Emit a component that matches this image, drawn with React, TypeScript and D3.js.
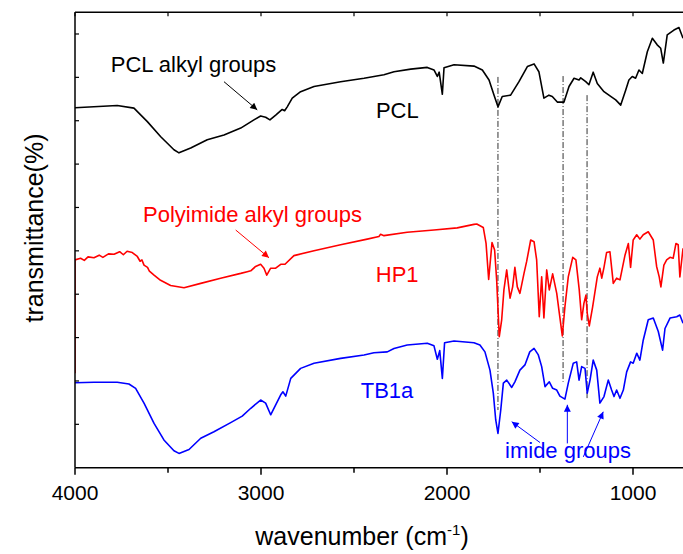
import React from 'react';
import * as d3 from 'd3';

// wavenumber (cm-1), transmittance (offset, arbitrary units)
const pclData: [number, number][] = [
  [4000, 83.0], [3773, 83.5], [3683, 82.9], [3611, 79.8], [3539, 76.3], [3468, 73.3],
  [3441, 72.6], [3378, 73.7], [3289, 75.6], [3199, 76.7], [3109, 78.3], [3038, 80.2],
  [3002, 81.1], [2975, 80.8], [2952, 80.2], [2921, 81.3], [2886, 82.6], [2873, 82.3],
  [2859, 83.2], [2832, 85.2], [2787, 86.7], [2715, 87.9], [2572, 89.0], [2446, 89.8],
  [2339, 90.6], [2285, 91.3], [2195, 91.9], [2106, 92.3], [2070, 91.7], [2052, 90.2],
  [2042, 91.2], [2025, 86.1], [2016, 92.2], [1962, 92.9], [1855, 92.6], [1810, 91.7],
  [1774, 89.4], [1747, 85.9], [1726, 83.2], [1703, 85.6], [1658, 85.9], [1613, 89.0],
  [1568, 92.5], [1532, 93.1], [1506, 91.3], [1479, 85.2], [1452, 85.9], [1434, 85.6],
  [1407, 84.3], [1371, 84.3], [1344, 87.9], [1317, 89.8], [1290, 89.4], [1281, 89.9],
  [1254, 89.0], [1237, 88.3], [1214, 91.2], [1192, 88.6], [1156, 86.7], [1120, 85.6],
  [1093, 84.8], [1066, 83.6], [1039, 87.1], [1022, 89.4], [1004, 90.2], [986, 89.8],
  [968, 91.7], [950, 90.9], [923, 95.9], [896, 99.0], [870, 97.5], [851, 96.7],
  [837, 93.3], [816, 99.8], [780, 100.9], [753, 101.5], [731, 99.0],
];

const hp1Data: [number, number][] = [
  [4000, 21.8], [4000, 47.9], [3970, 48.3], [3950, 47.8], [3930, 48.6], [3898, 48.4],
  [3870, 49.0], [3850, 48.5], [3820, 49.3], [3790, 49.2], [3760, 49.8], [3740, 49.1],
  [3720, 49.9], [3692, 49.6], [3665, 48.7], [3650, 47.6], [3640, 47.9], [3629, 46.7],
  [3610, 46.2], [3600, 45.3], [3575, 44.4], [3540, 43.2], [3486, 42.0], [3414, 41.5],
  [3324, 42.5], [3217, 43.7], [3109, 44.8], [3074, 45.2], [3055, 45.4], [3029, 46.4],
  [3002, 46.9], [2984, 46.0], [2969, 44.4], [2948, 46.0], [2921, 46.0], [2894, 46.9],
  [2871, 46.9], [2823, 48.9], [2715, 50.0], [2572, 51.4], [2429, 52.7], [2366, 53.3],
  [2357, 53.8], [2339, 53.5], [2214, 54.3], [2070, 54.8], [1945, 55.3], [1855, 56.1],
  [1840, 56.2], [1805, 55.4], [1790, 51.7], [1776, 43.4], [1758, 51.9], [1744, 50.2],
  [1733, 43.3], [1719, 30.2], [1706, 34.1], [1694, 41.0], [1679, 45.6], [1661, 39.1],
  [1647, 41.7], [1635, 46.2], [1622, 41.7], [1608, 40.2], [1586, 44.8], [1572, 47.5],
  [1550, 52.5], [1532, 52.1], [1518, 47.9], [1504, 34.8], [1491, 44.0], [1479, 34.5],
  [1464, 45.6], [1450, 41.0], [1432, 44.7], [1410, 40.2], [1396, 35.6], [1380, 30.4],
  [1366, 37.1], [1348, 44.0], [1324, 48.5], [1307, 47.9], [1289, 41.0], [1276, 34.1],
  [1264, 37.9], [1253, 39.8], [1246, 35.6], [1235, 32.7], [1217, 37.1], [1192, 44.0],
  [1178, 46.0], [1168, 43.7], [1156, 46.2], [1142, 49.6], [1124, 49.8], [1106, 42.5],
  [1088, 43.7], [1070, 43.3], [1043, 49.0], [1025, 51.7], [1013, 46.2], [999, 52.5],
  [980, 53.7], [963, 52.7], [945, 53.7], [918, 54.4], [891, 52.5], [873, 46.4],
  [859, 44.0], [850, 41.7], [834, 46.7], [819, 47.9], [801, 48.5], [784, 48.3],
  [769, 51.7], [757, 51.4], [748, 44.0], [731, 50.6],
];

const tb1aData: [number, number][] = [
  [4000, 19.6], [3898, 19.7], [3773, 19.7], [3710, 19.3], [3674, 18.3], [3629, 14.9],
  [3575, 10.2], [3522, 6.4], [3468, 3.9], [3441, 3.3], [3387, 4.2], [3324, 6.8],
  [3253, 8.3], [3163, 10.4], [3101, 11.9], [3055, 13.7], [3002, 15.6], [2975, 14.9],
  [2948, 12.2], [2921, 14.5], [2894, 16.8], [2882, 17.5], [2867, 16.5], [2840, 20.6],
  [2787, 22.9], [2715, 24.1], [2572, 25.2], [2446, 26.0], [2393, 26.5], [2321, 26.7],
  [2285, 27.5], [2214, 28.3], [2106, 28.7], [2070, 28.1], [2052, 25.0], [2039, 27.0],
  [2025, 20.6], [2013, 28.8], [1962, 29.2], [1855, 28.8], [1823, 28.3], [1796, 26.7],
  [1769, 22.5], [1751, 17.2], [1738, 11.0], [1726, 7.9], [1711, 13.3], [1697, 19.5],
  [1679, 20.2], [1652, 18.5], [1635, 19.8], [1608, 22.5], [1581, 23.7], [1555, 26.7],
  [1532, 27.5], [1509, 26.0], [1491, 23.3], [1473, 18.7], [1450, 19.8], [1432, 18.3],
  [1410, 17.9], [1393, 16.5], [1366, 15.8], [1348, 19.5], [1321, 24.1], [1303, 24.4],
  [1290, 20.2], [1276, 23.3], [1258, 22.9], [1246, 17.2], [1231, 20.2], [1214, 24.8],
  [1195, 22.5], [1178, 14.9], [1156, 16.4], [1133, 20.2], [1115, 17.9], [1102, 16.4],
  [1088, 17.9], [1070, 16.0], [1052, 17.9], [1034, 22.1], [1013, 24.4], [999, 24.1],
  [980, 26.4], [963, 24.8], [945, 29.4], [918, 34.1], [891, 34.5], [864, 31.4],
  [841, 27.1], [828, 32.1], [801, 34.5], [765, 34.8], [748, 35.2], [731, 33.3],
];

// dash-dot guide lines: wavenumber, top value, bottom value
const guideLines: [number, number, number][] = [
  [1726, 90.1, 13.3],
  [1376, 90.3, 19.8],
  [1247, 85.9, 15.6],
];

const xMajorTicks = [4000, 3000, 2000, 1000];
const xMinorTicks = [3500, 2500, 1500];
const yTicks = [10, 20, 30, 40, 50, 60, 70, 80, 90, 100];

// label text, wavenumber, value, colour
const labels: [string, number, number, string][] = [
  ['PCL alkyl groups', 3808, 91.3, '#000'],
  ['PCL', 2382, 80.6, '#000'],
  ['Polyimide alkyl groups', 3634, 56.7, '#ff0000'],
  ['HP1', 2383, 42.9, '#ff0000'],
  ['TB1a', 2464, 16.0, '#0000ff'],
  ['imide groups', 1688, 2.2, '#0000ff'],
];

// arrow: from [w, v] to [w, v], colour
const arrows: [number, number, number, number, string][] = [
  [3199, 89.0, 3020, 82.5, '#000'],
  [3136, 54.8, 2957, 48.4, '#ff0000'],
  [1500, 5.8, 1652, 10.6, '#0000ff'],
  [1353, 5.6, 1353, 14.5, '#0000ff'],
  [1267, 2.5, 1160, 12.9, '#0000ff'],
];

const W = 683;
const H = 554;
const left = 75;
const top = 12.3;
const bottom = 467.7;

const x = d3.scaleLinear().domain([4000, 700]).range([left, left + 3300 * 0.186]);
const y = d3.scaleLinear().domain([0, 105]).range([bottom, top]);

const line = d3.line<[number, number]>()
  .x(d => x(d[0]))
  .y(d => y(d[1]));

const font = 'Liberation Sans, Arial, Helvetica, sans-serif';

const colorId = (c: string) => 'arr' + c.replace('#', '');

export default function App() {
  const arrowColors = Array.from(new Set(arrows.map(a => a[4])));
  const right = W + 10;
  return (
    <svg width={W} height={H} style={{ position: 'absolute', left: 0, top: 0, background: '#fff' }}>
      <defs>
        {arrowColors.map(c => (
          <marker key={c} id={colorId(c)} viewBox="0 0 10 10" refX="10" refY="5"
            markerWidth="9" markerHeight="7" markerUnits="userSpaceOnUse" orient="auto">
            <path d="M0,0 L10,5 L0,10 Z" fill={c} />
          </marker>
        ))}
        <clipPath id="plot">
          <rect x={left} y={top} width={W - left} height={bottom - top} />
        </clipPath>
      </defs>

      <g clipPath="url(#plot)">
        {guideLines.map(([w, v1, v2], i) => (
          <line key={i} x1={x(w)} x2={x(w)} y1={y(v1)} y2={y(v2)}
            stroke="#333" strokeWidth={1} strokeDasharray="6,2,1,2" />
        ))}
        <path d={line(pclData) || ''} fill="none" stroke="#000" strokeWidth={1.6} strokeLinejoin="round" />
        <path d={line(hp1Data) || ''} fill="none" stroke="#ff0000" strokeWidth={1.6} strokeLinejoin="round" />
        <path d={line(tb1aData) || ''} fill="none" stroke="#0000ff" strokeWidth={1.6} strokeLinejoin="round" />
      </g>

      {/* frame */}
      <line x1={left} x2={right} y1={top} y2={top} stroke="#000" strokeWidth={1.5} />
      <line x1={left} x2={right} y1={bottom} y2={bottom} stroke="#000" strokeWidth={1.5} />
      <line x1={left} x2={left} y1={top} y2={bottom} stroke="#000" strokeWidth={1.5} />

      {/* x ticks */}
      {xMajorTicks.concat(xMinorTicks).map(t => (
        <g key={t}>
          <line x1={x(t)} x2={x(t)} y1={bottom} y2={bottom + (xMajorTicks.includes(t) ? 7 : 5)} stroke="#000" strokeWidth={1.5} />
          <line x1={x(t)} x2={x(t)} y1={top} y2={top + 4} stroke="#000" strokeWidth={1.2} />
        </g>
      ))}
      {xMajorTicks.map(t => (
        <text key={t} x={x(t)} y={500} textAnchor="middle" fontFamily={font} fontSize={21} fill="#000">{t}</text>
      ))}

      {/* y ticks */}
      {yTicks.map(t => (
        <line key={t} x1={left} x2={left + 4} y1={y(t)} y2={y(t)} stroke="#000" strokeWidth={1.2} />
      ))}

      {/* axis titles */}
      <text x={362} y={545} textAnchor="middle" fontFamily={font} fontSize={25} fill="#000">
        wavenumber (cm<tspan dy={-10} fontSize={15}>-1</tspan><tspan dy={10}>)</tspan>
      </text>
      <text transform="translate(43,228) rotate(-90)" textAnchor="middle" fontFamily={font} fontSize={25} fill="#000">
        transmittance(%)
      </text>

      {/* annotations */}
      {labels.map(([s, w, v, c]) => (
        <text key={s} x={x(w)} y={y(v)} fontFamily={font} fontSize={22} fill={c}>{s}</text>
      ))}
      {arrows.map(([w1, v1, w2, v2, c], i) => (
        <line key={i} x1={x(w1)} y1={y(v1)} x2={x(w2)} y2={y(v2)} stroke={c} strokeWidth={1}
          markerEnd={`url(#${colorId(c)})`} />
      ))}
    </svg>
  );
}
